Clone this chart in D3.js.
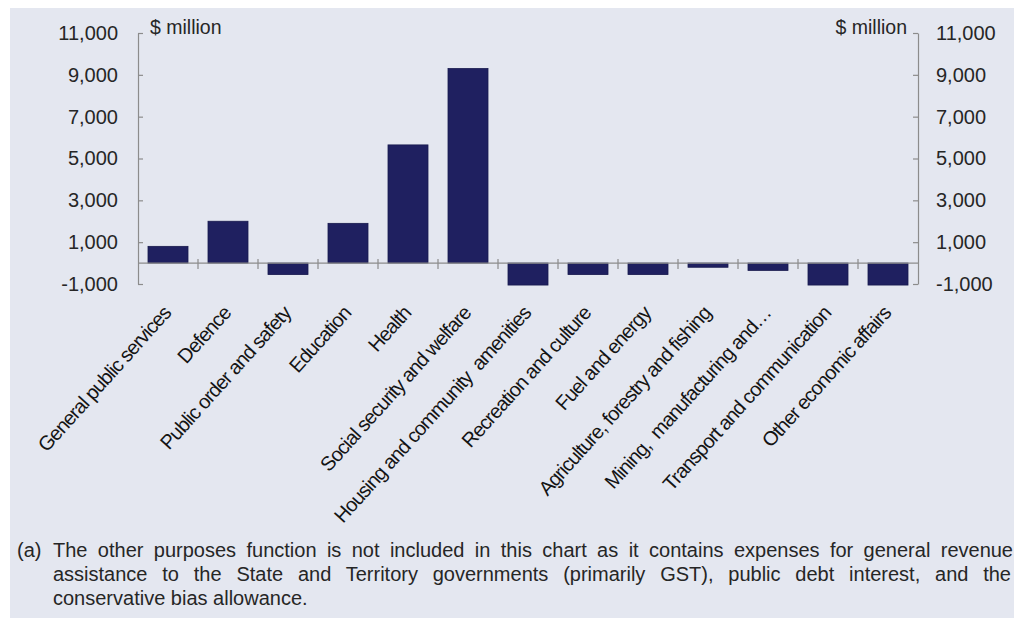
<!DOCTYPE html>
<html>
<head>
<meta charset="utf-8">
<script src="https://cdn.jsdelivr.net/npm/d3@7"></script>
<style>
  html, body { margin: 0; padding: 0; background: #ffffff; }
  svg { display: block; font-family: "Liberation Sans", Arial, sans-serif; }
</style>
</head>
<body>
<svg id="chart" width="1014" height="618"></svg>
<script>
// Expense changes by function, $ million
const categories = [
  "General public services",
  "Defence",
  "Public order and safety",
  "Education",
  "Health",
  "Social security and welfare",
  "Housing and community  amenities",
  "Recreation and culture",
  "Fuel and energy",
  "Agriculture, forestry and fishing",
  "Mining,  manufacturing and…",
  "Transport and communication",
  "Other economic affairs"
];
const values = [800, 2000, -550, 1900, 5650, 9300, -1050, -550, -550, -200, -350, -1050, -1050];
const tickValues = [-1000, 1000, 3000, 5000, 7000, 9000, 11000];
const unitLabel = "$ million";
const footnoteMarker = "(a)";
const footnoteLines = [
  "The other purposes function is not included in this chart as it contains expenses for general revenue",
  "assistance to the State and Territory governments (primarily GST), public debt interest, and the",
  "conservative bias allowance."
];

const svg = d3.select("#chart");
const W = 1014, H = 618;
const plotLeft = 138, plotRight = 918, plotTop = 33, plotBottom = 284;

// panel background
svg.append("rect").attr("x", 10).attr("y", 8).attr("width", W - 10).attr("height", H - 8)
  .attr("fill", "#e4e7f0");

const x = d3.scaleBand().domain(categories).range([plotLeft, plotRight])
  .paddingInner(1 / 3).paddingOuter(1 / 6);
const y = d3.scaleLinear().domain([-1000, 11000]).range([plotBottom, plotTop]);

const axisColor = "#8c8c8c";
const textColor = "#262626";
const fmt = v => d3.format(",")(v).replace("\u2212", "-");

// left axis: ticks point inward, labels outside
const yLeft = svg.append("g").attr("transform", `translate(${plotLeft},0)`)
  .call(d3.axisLeft(y).tickValues(tickValues).tickFormat(fmt).tickSizeInner(-5).tickSizeOuter(0).tickPadding(20));
const yRight = svg.append("g").attr("transform", `translate(${plotRight},0)`)
  .call(d3.axisRight(y).tickValues(tickValues).tickFormat(fmt).tickSizeInner(-5).tickSizeOuter(0).tickPadding(18));
[yLeft, yRight].forEach(g => {
  g.select(".domain").attr("stroke", axisColor).attr("stroke-width", 1.2);
  g.selectAll(".tick line").attr("stroke", axisColor).attr("stroke-width", 1.2);
  g.selectAll(".tick text").attr("fill", textColor).style("font-size", "20px")
    .style("font-family", "'Liberation Sans', Arial, sans-serif");
});

// unit labels
svg.append("text").attr("x", plotLeft + 12).attr("y", y(11000) + 1)
  .attr("fill", textColor).style("font-size", "19.5px").text(unitLabel);
svg.append("text").attr("x", plotRight - 11).attr("y", y(11000) + 1).attr("text-anchor", "end")
  .attr("fill", textColor).style("font-size", "19.5px").text(unitLabel);

// bars
svg.append("g").selectAll("rect").data(categories).join("rect")
  .attr("x", d => x(d))
  .attr("width", x.bandwidth())
  .attr("y", (d, i) => y(Math.max(0, values[i])))
  .attr("height", (d, i) => Math.abs(y(values[i]) - y(0)))
  .attr("fill", "#1f2060")
  .attr("stroke", "#181a4e")
  .attr("stroke-width", 0.8);

// zero line with category separators
const zeroY = y(0);
svg.append("line").attr("x1", plotLeft).attr("x2", plotRight).attr("y1", zeroY).attr("y2", zeroY)
  .attr("stroke", axisColor).attr("stroke-width", 1.2);
svg.append("g").selectAll("line").data(categories.slice(1)).join("line")
  .attr("x1", d => x(d) - (x.step() - x.bandwidth()) / 2)
  .attr("x2", d => x(d) - (x.step() - x.bandwidth()) / 2)
  .attr("y1", zeroY - 4).attr("y2", zeroY + 6)
  .attr("stroke", axisColor).attr("stroke-width", 1.2);

// category labels
svg.append("g").selectAll("text").data(categories).join("text")
  .attr("transform", d => `translate(${x(d) + x.bandwidth() / 2 + 4},${plotBottom + 30}) rotate(-48)`)
  .attr("text-anchor", "end")
  .attr("fill", "#141414")
  .style("font-size", "20px")
  .style("letter-spacing", "-0.9px")
  .style("white-space", "pre")
  .text(d => d);

// footnote, justified lines
const noteX = 53, noteTop = 557, noteStep = 24;
svg.append("text").attr("x", 17).attr("y", noteTop).attr("fill", textColor)
  .style("font-size", "20px").text(footnoteMarker);
const lineEnds = [1013, 1011, null];
footnoteLines.forEach((line, i) => {
  const t = svg.append("text").attr("x", noteX).attr("y", noteTop + i * noteStep)
    .attr("fill", textColor).style("font-size", "20px").style("white-space", "pre").text(line);
  if (lineEnds[i]) {
    const natural = t.node().getComputedTextLength();
    const spaces = (line.match(/ /g) || []).length;
    t.style("word-spacing", ((lineEnds[i] - noteX - natural) / spaces) + "px");
  }
});
</script>
</body>
</html>
